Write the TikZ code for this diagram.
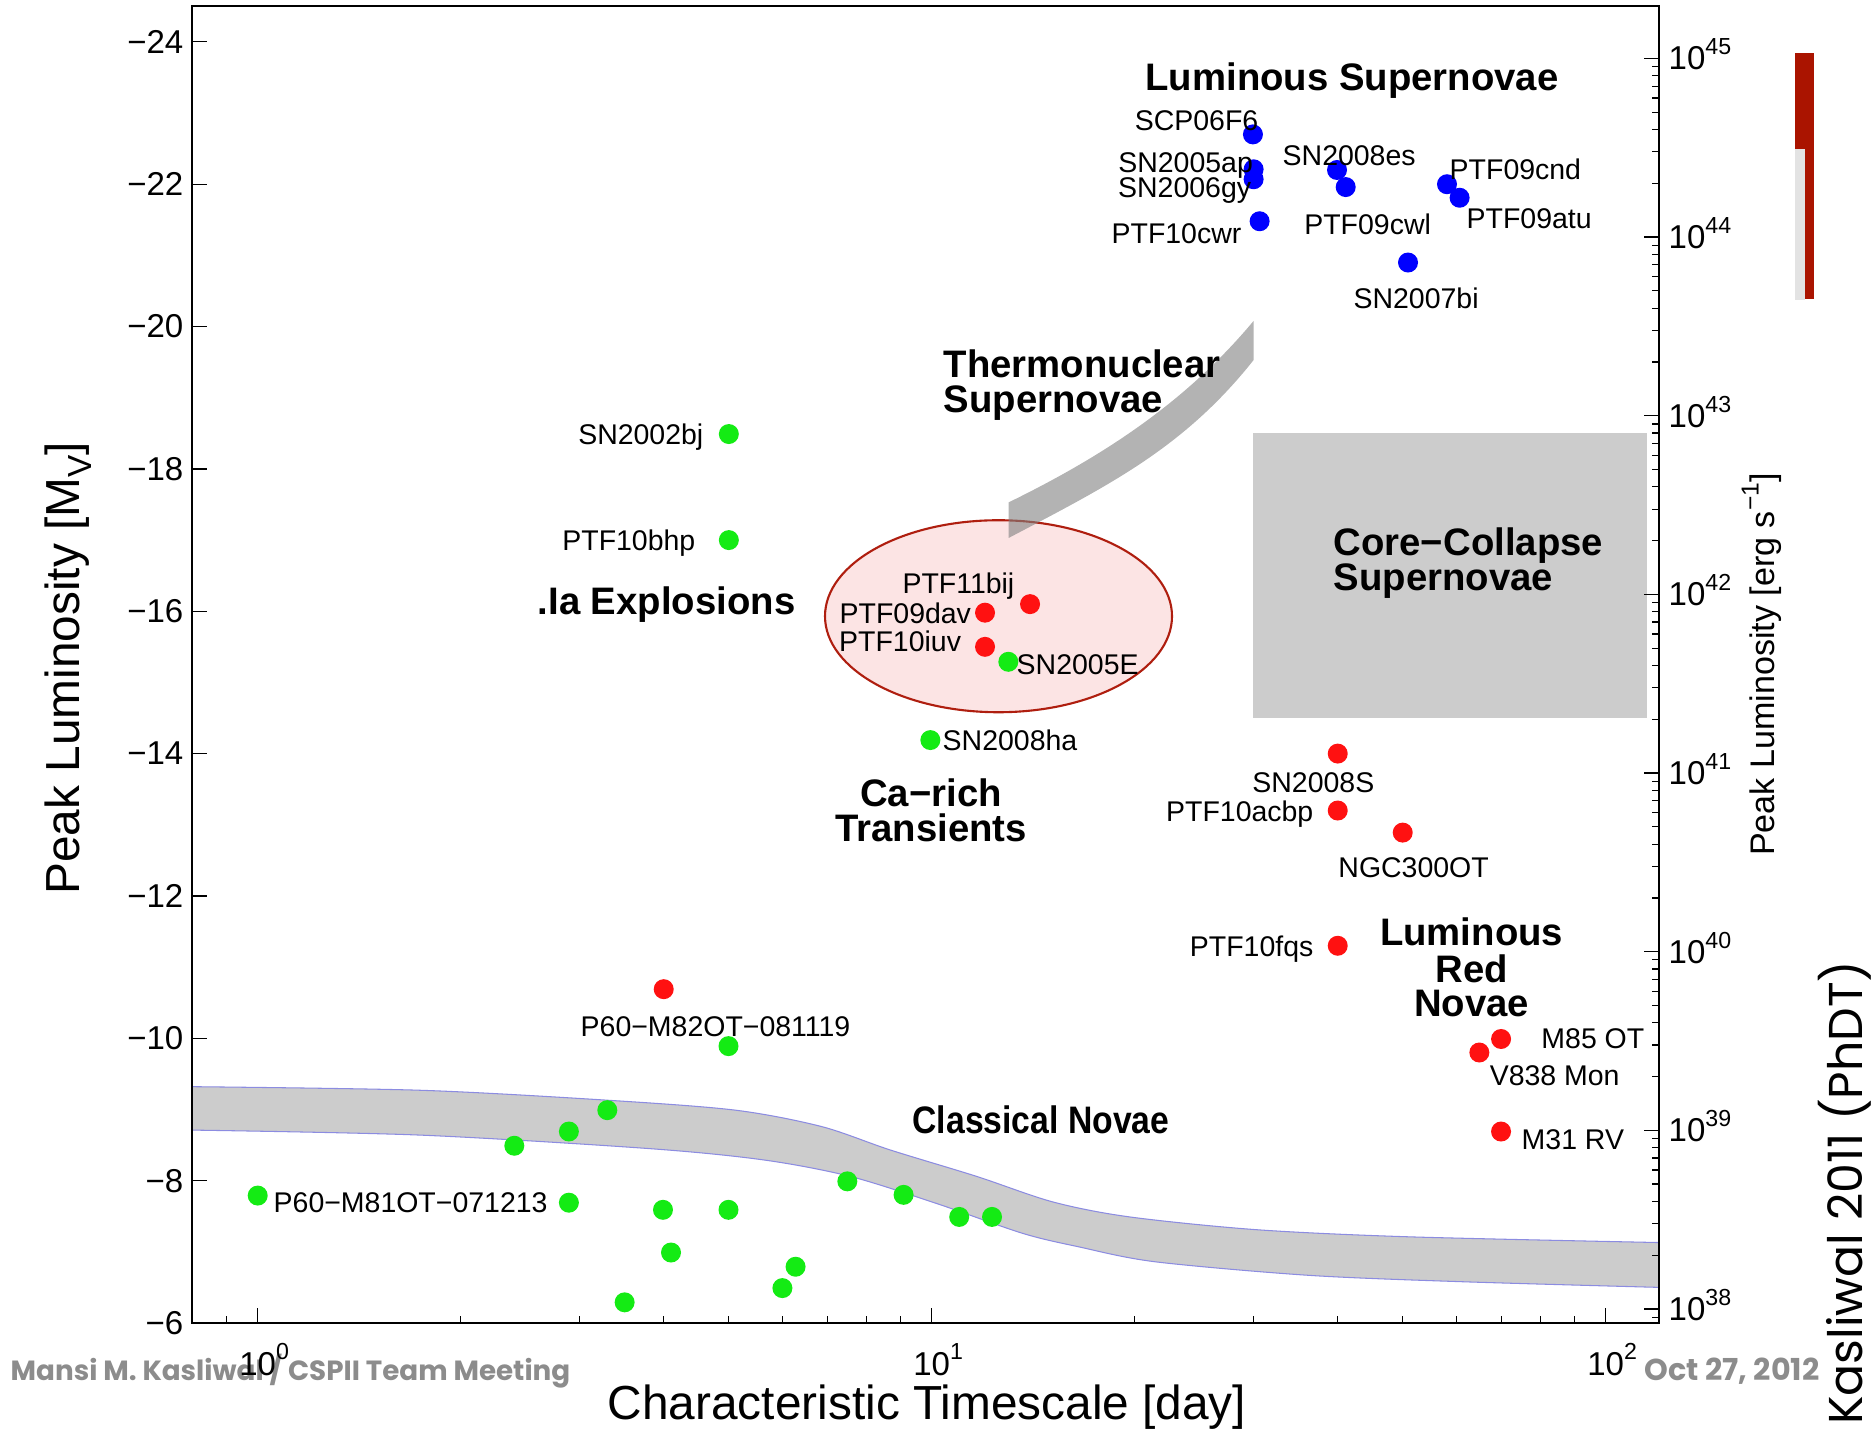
\documentclass[tikz,border=0pt]{standalone}
\usepackage{fontspec}
\setmainfont{Liberation Sans}
\newfontfamily\gothic{Poppins}

\definecolor{snblue}{RGB}{0,0,255}
\definecolor{sngreen}{RGB}{20,235,20}
\definecolor{snred}{RGB}{255,17,17}
\definecolor{bandgray}{RGB}{204,204,204}
\definecolor{bandedge}{RGB}{140,140,225}
\definecolor{ellfill}{RGB}{252,228,228}
\definecolor{elldraw}{RGB}{175,30,15}
\definecolor{footgray}{RGB}{140,140,140}
\definecolor{barred}{RGB}{170,20,0}
\definecolor{bargray}{RGB}{227,227,227}

\tikzset{
  sndot/.style={circle, inner sep=0pt, minimum size=0.2cm},
  bluedot/.style={sndot, fill=snblue},
  greendot/.style={sndot, fill=sngreen},
  reddot/.style={sndot, fill=snred},
  lbl/.style={inner sep=0pt, font=\fontsize{8.1}{9}\selectfont},
  classlbl/.style={inner sep=0pt, font=\fontsize{10.9}{11}\selectfont\bfseries},
  ticklbl/.style={inner sep=0pt, font=\fontsize{9.4}{10}\selectfont},
}

\begin{document}
\begin{tikzpicture}[x=6.74cm, y=-0.7117cm]
\useasboundingbox (-0.38234,-24.589) rectangle (2.39955,-4.4685);

\fill[bandgray] (1.4771,-18.5) rectangle (2.0607,-14.5);
\draw[elldraw, fill=ellfill, line width=0.6pt] (1.0991,-15.93) ellipse [x radius=1.735cm, y radius=0.96cm];
\fill[black!50, fill opacity=0.6] (1.1142,-17.53) .. controls (1.2478,-18.15) and (1.3738,-18.90) .. (1.4776,-20.08)
  -- (1.4776,-19.53) .. controls (1.3738,-18.29) and (1.2626,-17.77) .. (1.1142,-17.03) -- cycle;
\filldraw[fill=bandgray, draw=bandedge, line width=0.3pt]
  plot[smooth] coordinates {(-0.0969,-9.32) (0.2402,-9.27) (0.5187,-9.13) (0.7088,-8.99) (0.8365,-8.76) (0.9387,-8.43)
    (1.0665,-8.06) (1.18,-7.70) (1.2936,-7.49) (1.4826,-7.31) (1.7097,-7.21) (2.0792,-7.13)}
  -- plot[smooth] coordinates {(2.0792,-6.50) (1.7853,-6.58) (1.5583,-6.67) (1.3313,-6.86) (1.218,-7.07) (1.1346,-7.26)
    (1.0068,-7.68) (0.8788,-8.06) (0.7512,-8.29) (0.581,-8.45) (0.2402,-8.64) (-0.0969,-8.71)} -- cycle;

\fill[barred] (2.2809,-23.85) rectangle (2.3091,-20.39);
\fill[bargray] (2.2809,-22.50) rectangle (2.2957,-20.38);

\node[anchor=base west, inner sep=0pt, text=footgray, font=\fontsize{7.9}{9}\selectfont\gothic\bfseries] (foot) at (-0.3675,-5.185) {Mansi M. Kasliwal / CSPII Team Meeting};
\node[anchor=base west, inner sep=0pt, text=footgray, font=\fontsize{8.6}{9}\selectfont\gothic\bfseries] (date) at (2.0568,-5.185) {Oct 27, 2012};
\node[rotate=90, anchor=base, inner sep=0pt, font=\fontsize{13.5}{14}\selectfont\gothic] (thesis) at (2.3803,-7.83) {Kasliwal 2011 (PhDT)};

\draw[line width=0.6pt] (-0.09691,-24.5) rectangle (2.07918,-6);
\foreach \a in {6,8,...,24} {
  \draw[line width=0.35pt] (-0.09691,-\a) -- ++(0.15cm,0pt);
  \node[ticklbl, anchor=east] at (-0.1093,-\a) {−\a};
}
\foreach \v in {0,1,2} {
  \draw[line width=0.35pt] (\v,-6) -- ++(0pt,0.15cm);
  \node[ticklbl, anchor=base] at (\v,-5.26) {10\rlap{\raisebox{0.5em}{\fontsize{6.6}{7}\selectfont\v}}};
}
\foreach \v in {0.9,2,3,4,5,6,7,8,9,20,30,40,50,60,70,80,90}
  \draw[line width=0.35pt] ({log10(\v)},-6) -- ++(0pt,0.07cm);
\foreach \d in {37,...,45} {
  \foreach \k in {1,...,9} {
    \pgfmathsetmacro\mm{-(6.197+2.51*(\d-38+log10(\k)))}
    \pgfmathtruncatemacro\inside{and(\mm<-6.02,\mm>-24.48)}
    \ifnum\inside=1
      \ifnum\k=1 \def\tl{0.15cm}\else\def\tl{0.07cm}\fi
      \draw[line width=0.35pt] (2.07918,\mm) -- ++(-\tl,0pt);
    \fi
  }
}
\foreach \d in {38,...,45}
  \node[ticklbl, anchor=west] at (2.0924,{-(6.197+2.51*(\d-38))}) {10\smash{\raisebox{0.45em}{\fontsize{6.6}{7}\selectfont\d}}};

\node[rotate=90, anchor=base, inner sep=0pt, font=\fontsize{13.6}{14}\selectfont] (ylab) at (-0.2637,-15.20) {Peak Luminosity [M\raisebox{-0.25em}{\fontsize{9.5}{10}\selectfont V}]};
\node[anchor=base, inner sep=0pt, font=\fontsize{13.6}{14}\selectfont] (xlab) at (0.993,-4.637) {Characteristic Timescale [day]};
\node[rotate=90, anchor=base, inner sep=0pt, font=\fontsize{9.7}{10}\selectfont] (llab) at (2.2497,-15.25) {Peak Luminosity [erg s\raisebox{0.45em}{\fontsize{7}{7}\selectfont −1}]};

\node[bluedot] (scp) at (1.4766,-22.70) {};
\node[bluedot] (ap) at (1.4776,-22.21) {};
\node[bluedot] (gy) at (1.4776,-22.07) {};
\node[bluedot] (cwr) at (1.4865,-21.48) {};
\node[bluedot] (es) at (1.6013,-22.20) {};
\node[bluedot] (cwl) at (1.6142,-21.96) {};
\node[bluedot] (cnd) at (1.7645,-22.00) {};
\node[bluedot] (atu) at (1.7832,-21.81) {};
\node[bluedot] (bi) at (1.7067,-20.90) {};

\node[greendot] (bj) at (0.6990,-18.49) {};
\node[greendot] (bhp) at (0.6990,-17.00) {};
\node[greendot] (ha) at (0.998,-14.19) {};
\node[greendot] (sne) at (1.1137,-15.29) {};
\node[greendot] (m81) at (0,-7.79) {};
\foreach \x/\y [count=\i] in {0.6985/-9.89, 0.3807/-8.49, 0.4617/-8.69, 0.5187/-8.99, 0.4617/-7.69, 0.6013/-7.59,
  0.6985/-7.59, 0.6132/-6.99, 0.5444/-6.29, 0.798/-6.79, 0.7785/-6.49, 0.8748/-7.99, 0.9583/-7.80, 1.0408/-7.49, 1.0895/-7.49}
  \node[greendot] (cn\i) at (\x,\y) {};

\node[reddot] (bij) at (1.1459,-16.10) {};
\node[reddot] (dav) at (1.0791,-15.98) {};
\node[reddot] (iuv) at (1.0791,-15.50) {};
\node[reddot] (s08) at (1.6024,-14.00) {};
\node[reddot] (acbp) at (1.6024,-13.20) {};
\node[reddot] (ngc) at (1.6988,-12.89) {};
\node[reddot] (fqs) at (1.6024,-11.30) {};
\node[reddot] (m85) at (1.8447,-9.99) {};
\node[reddot] (v838) at (1.8125,-9.80) {};
\node[reddot] (m31) at (1.8447,-8.69) {};
\node[reddot] (m82) at (0.6024,-10.69) {};

\node[lbl, anchor=base east] at (1.4856,-22.75) {SCP06F6};
\node[lbl, anchor=base east] at (1.4776,-22.16) {SN2005ap};
\node[lbl, anchor=base east] at (1.4749,-21.82) {SN2006gy};
\node[lbl, anchor=base east] at (1.4604,-21.17) {PTF10cwr};
\node[lbl, anchor=base west] at (1.5197,-22.26) {SN2008es};
\node[lbl, anchor=base west] at (1.5518,-21.30) {PTF09cwl};
\node[lbl, anchor=base west] at (1.7675,-22.07) {PTF09cnd};
\node[lbl, anchor=base west] at (1.7927,-21.38) {PTF09atu};
\node[lbl, anchor=base west] at (1.6249,-20.26) {SN2007bi};

\node[lbl, anchor=base east] at (0.6622,-18.35) {SN2002bj};
\node[lbl, anchor=base east] at (0.6503,-16.86) {PTF10bhp};
\node[lbl, anchor=base west] at (1.0153,-14.05) {SN2008ha};
\node[lbl, anchor=base west] at (1.1251,-15.11) {SN2005E};
\node[lbl, anchor=base west] at (0.4782,-10.03) {P60−M82OT−081119};
\node[lbl, anchor=base west] at (0.0227,-7.55) {P60−M81OT−071213};

\node[lbl, anchor=base east] at (1.1236,-16.25) {PTF11bij};
\node[lbl, anchor=base east] at (1.0593,-15.83) {PTF09dav};
\node[lbl, anchor=base east] at (1.0445,-15.43) {PTF10iuv};
\node[lbl, anchor=base east] at (1.6577,-13.46) {SN2008S};
\node[lbl, anchor=base east] at (1.5672,-13.04) {PTF10acbp};
\node[lbl, anchor=base west] at (1.6024,-12.26) {NGC300OT};
\node[lbl, anchor=base east] at (1.5672,-11.15) {PTF10fqs};
\node[lbl, anchor=base west] at (1.9036,-9.85) {M85 OT};
\node[lbl, anchor=base west] at (1.8269,-9.34) {V838 Mon};
\node[lbl, anchor=base west] at (1.8743,-8.44) {M31 RV};

\node[classlbl, anchor=base] at (1.6236,-23.31) {Luminous Supernovae};
\node[classlbl, anchor=base west] at (1.0168,-19.29) {Thermonuclear};
\node[classlbl, anchor=base west] at (1.0168,-18.79) {Supernovae};
\node[classlbl, anchor=base west] at (0.4144,-15.95) {.Ia Explosions};
\node[classlbl, anchor=base] at (0.9990,-13.26) {Ca−rich};
\node[classlbl, anchor=base] at (0.9990,-12.76) {Transients};
\node[classlbl, anchor=base west] at (1.5954,-16.78) {Core−Collapse};
\node[classlbl, anchor=base west] at (1.5954,-16.29) {Supernovae};
\node[classlbl, anchor=base west, xscale=0.88, transform shape] at (0.9708,-8.66) {Classical Novae};
\node[classlbl, anchor=base] at (1.801,-11.30) {Luminous};
\node[classlbl, anchor=base] at (1.801,-10.78) {Red};
\node[classlbl, anchor=base] at (1.801,-10.30) {Novae};
\end{tikzpicture}
\end{document}
